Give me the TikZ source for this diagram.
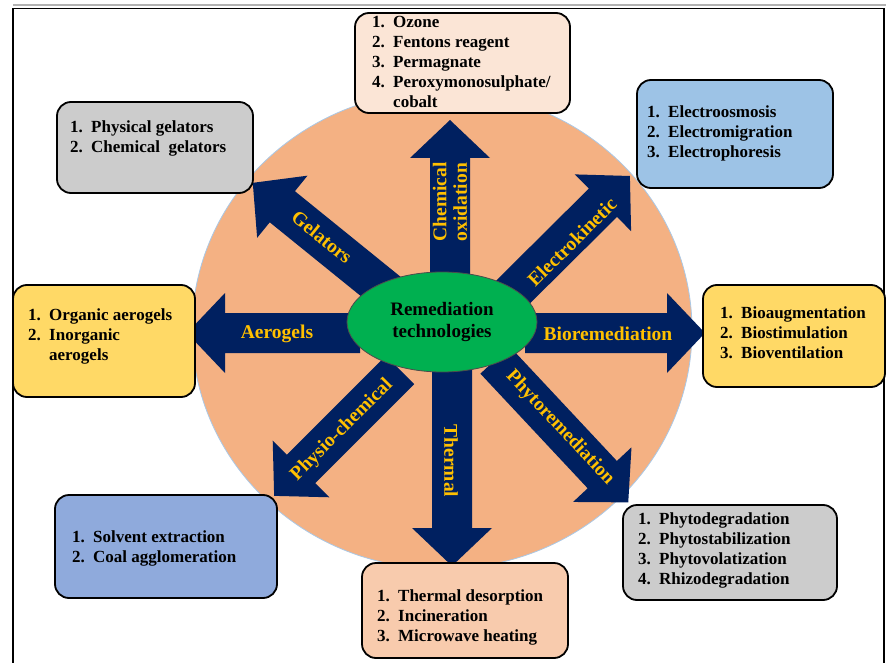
\documentclass[tikz,border=0pt]{standalone}
\usepackage{fontspec}
\setmainfont{Liberation Serif}
\usetikzlibrary{shapes.geometric}
\definecolor{navy}{RGB}{0,32,96}
\definecolor{gold}{RGB}{255,192,0}
\definecolor{bigorange}{RGB}{244,177,131}
\definecolor{ringblue}{RGB}{170,200,230}
\definecolor{centergreen}{RGB}{0,176,80}
\definecolor{peachlight}{RGB}{251,229,214}
\definecolor{peach}{RGB}{248,203,173}
\definecolor{graybox}{RGB}{204,204,204}
\definecolor{lightblue}{RGB}{157,195,230}
\definecolor{yellowbox}{RGB}{255,217,102}
\definecolor{midblue}{RGB}{143,170,220}
\newcommand{\blockarrow}[3]{% start, angle, length
  \fill[navy, shift={#1}, rotate=#2] (0,-20) -- ({#3-38},-20) -- ({#3-38},-40) -- (#3,0)
     -- ({#3-38},40) -- ({#3-38},20) -- (0,20) -- cycle;}
\newcommand{\itm}[1]{\makebox[21pt][l]{#1}}
\begin{document}
\begin{tikzpicture}[x=1pt,y=-1pt]
\tikzset{
  boxbase/.style={draw=black, line width=1.8pt, rounded corners=14pt, inner sep=0pt},
  listtext/.style={font=\bfseries\fontsize{17}{20}\selectfont, align=left, anchor=west, inner sep=0pt},
  lbl/.style={font=\bfseries\fontsize{19.5}{20.5}\selectfont, text=gold, align=center, inner sep=0pt},
}
\useasboundingbox (0,0) rectangle (886,663);
% frame
\draw[gray!60, line width=1.2pt] (13,5) -- (886,5);
\draw[black, line width=1.8pt] (13,663) -- (13,8.5) -- (884,8.5) -- (884,663);
% big ellipse
\node[ellipse, draw=ringblue, line width=0.8pt, fill=bigorange, minimum width=500pt, minimum height=478pt, inner sep=0pt] (ring) at (442,330) {};
% arrows
\blockarrow{(450,290)}{90}{170}
\blockarrow{(452,355)}{-90}{211}
\blockarrow{(360,333)}{180}{173}
\blockarrow{(525,333)}{0}{180}
\blockarrow{(395,298)}{141}{183}
\blockarrow{(505,300)}{44.8}{176}
\blockarrow{(400,370)}{225}{178}
\blockarrow{(495,360)}{-46.9}{195}
% centre
\node[ellipse, draw=black!70, line width=0.8pt, fill=centergreen, minimum width=190pt, minimum height=100pt, inner sep=0pt,
      font=\bfseries\fontsize{19}{22}\selectfont, align=center] (center) at (442,322) {Remediation\\technologies};
% labels
\node[lbl, rotate=90] (l-chem) at (450,202) {Chemical\\oxidation};
\node[lbl, rotate=-90] (l-therm) at (451,461) {Thermal};
\node[lbl] (l-aero) at (277,334) {Aerogels};
\node[lbl] (l-bio) at (608,334) {Bioremediation};
\node[lbl, rotate=-39] (l-gel) at (322,237) {Gelators};
\node[lbl, rotate=44.8] (l-elec) at (572,242) {Electrokinetic};
\node[lbl, rotate=45] (l-phys) at (342,430) {Physio-chemical};
\node[lbl, rotate=-46.9] (l-phyto) at (560,428) {Phytoremediation};
% boxes
\node[boxbase, fill=peachlight, minimum width=215pt, minimum height=100pt] (b-chem) at (462.5,63) {};
\node[boxbase, fill=graybox, minimum width=196pt, minimum height=91pt] (b-gel) at (155,147.5) {};
\node[boxbase, fill=lightblue, minimum width=196pt, minimum height=108pt] (b-elec) at (735,134) {};
\node[boxbase, fill=yellowbox, minimum width=182pt, minimum height=112pt] (b-aero) at (104,341) {};
\node[boxbase, fill=yellowbox, minimum width=182pt, minimum height=102pt] (b-bio) at (794,336) {};
\node[boxbase, fill=midblue, minimum width=222pt, minimum height=103pt] (b-phys) at (166,546.5) {};
\node[boxbase, fill=peach, minimum width=206pt, minimum height=95pt] (b-therm) at (465,610.5) {};
\node[boxbase, fill=graybox, minimum width=214pt, minimum height=95pt] (b-phyto) at (730,552.5) {};
% box texts
\node[listtext] (t-chem) at (372,62) {\itm{1.}Ozone\\\itm{2.}Fentons reagent\\\itm{3.}Permagnate\\\itm{4.}Peroxymonosulphate/\\\itm{}cobalt};
\node[listtext] (t-gel) at (70,138.5) {\itm{1.}Physical gelators\\\itm{2.}Chemical\ \ gelators};
\node[listtext] (t-elec) at (647,133) {\itm{1.}Electroosmosis\\\itm{2.}Electromigration\\\itm{3.}Electrophoresis};
\node[listtext] (t-aero) at (28,336.5) {\itm{1.}Organic aerogels\\\itm{2.}Inorganic\\\itm{}aerogels};
\node[listtext] (t-bio) at (720,333) {\itm{1.}Bioaugmentation\\\itm{2.}Biostimulation\\\itm{3.}Bioventilation};
\node[listtext] (t-phys) at (72,548) {\itm{1.}Solvent extraction\\\itm{2.}Coal agglomeration};
\node[listtext] (t-therm) at (377,617) {\itm{1.}Thermal desorption\\\itm{2.}Incineration\\\itm{3.}Microwave heating};
\node[listtext] (t-phyto) at (638,550) {\itm{1.}Phytodegradation\\\itm{2.}Phytostabilization\\\itm{3.}Phytovolatization\\\itm{4.}Rhizodegradation};
\end{tikzpicture}
\end{document}
